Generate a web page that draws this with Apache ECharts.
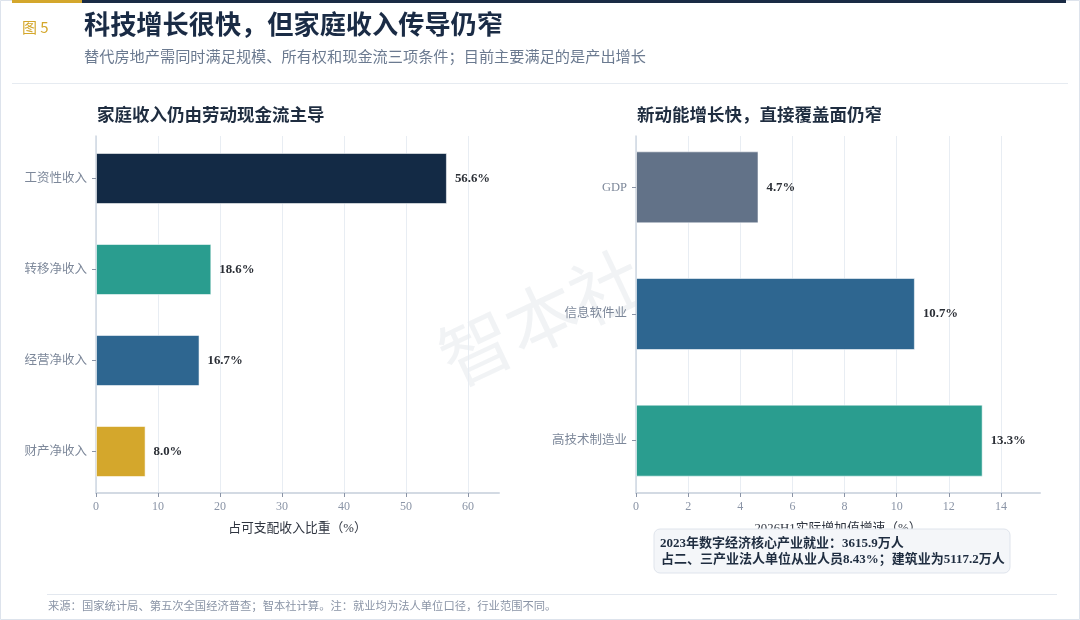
<!DOCTYPE html>
<html>
<head>
<meta charset="utf-8">
<script src="https://cdn.jsdelivr.net/npm/echarts@6/dist/echarts.min.js"></script>
<style>
html,body{margin:0;padding:0;background:#fff;}
#chart{width:1080px;height:620px;}
</style>
</head>
<body>
<div id="chart"></div>
<script>
// ---- data ----
const incomeCats = ['工资性收入', '转移净收入', '经营净收入', '财产净收入'];
const incomeVals = [56.6, 18.6, 16.7, 8.0];
const incomeColors = ['#132a45', '#2a9d8f', '#2e6690', '#d4a72c'];
const incomeTicks = [0, 10, 20, 30, 40, 50, 60];

const growthCats = ['GDP', '信息软件业', '高技术制造业'];
const growthVals = [4.7, 10.7, 13.3];
const growthColors = ['#627288', '#2e6690', '#2a9d8f'];
const growthTicks = [0, 2, 4, 6, 8, 10, 12, 14];

const SERIF = "'Liberation Serif','DejaVu Serif','Noto Sans CJK SC',serif";
const SANS = "'Noto Sans CJK SC','Noto Sans',sans-serif";

const chart = echarts.init(document.getElementById('chart'));

function barSeries(vals, colors, xi, yi, bw) {
  return {
    type: 'bar', xAxisIndex: xi, yAxisIndex: yi, barWidth: bw, z: 3,
    data: vals.map((v, i) => ({ value: v, itemStyle: { color: colors[i] } })),
    itemStyle: { borderColor: 'rgba(255,255,255,0.55)', borderWidth: 1 },
    label: {
      show: true, position: 'right', distance: 8,
      formatter: p => p.value.toFixed(1) + '%',
      color: '#2b2f36', fontSize: 12.8, fontWeight: 'bold', fontFamily: SERIF
    },
    emphasis: { disabled: true }
  };
}

function catAxis(grid, cats) {
  return {
    gridIndex: grid, type: 'category', data: cats, inverse: true,
    axisLine: { show: false },
    axisTick: { show: true, alignWithLabel: true, length: 4, lineStyle: { color: '#8a94a6', width: 1 } },
    axisLabel: { margin: 9, color: '#7d889a', fontSize: 12.5, fontFamily: SERIF },
    splitLine: { show: false }
  };
}

function frameX(grid, max, interval, ticks, name) {
  return {
    gridIndex: grid, type: 'value', min: 0, max: max, interval: interval,
    axisLine: { show: true, lineStyle: { color: '#d3dae3', width: 2 } },
    axisTick: { show: true, customValues: ticks, length: 4, lineStyle: { color: '#8a94a6' } },
    axisLabel: { customValues: ticks, color: '#8a94a6', fontSize: 12, fontFamily: SERIF, margin: 8 },
    splitLine: { show: true, lineStyle: { color: '#e8edf3', width: 1 } },
    name: name, nameLocation: 'middle', nameGap: 29,
    nameTextStyle: { color: '#2f3540', fontSize: 12.8, fontFamily: SERIF }
  };
}

function frameY(grid) {
  return {
    gridIndex: grid, type: 'value', min: 0, max: 1,
    axisLine: { show: true, lineStyle: { color: '#cfd7e2', width: 1.5 } },
    axisTick: { show: false }, axisLabel: { show: false }, splitLine: { show: false }
  };
}

const option = {
  backgroundColor: '#ffffff',
  animation: false,
  grid: [
    { left: 96, top: 133, width: 403, height: 364, outerBoundsMode: 'none', containLabel: false },
    { left: 96, top: 136, width: 403, height: 357, outerBoundsMode: 'none', containLabel: false },
    { left: 636, top: 124, width: 404, height: 380, outerBoundsMode: 'none', containLabel: false },
    { left: 636, top: 136, width: 404, height: 357, outerBoundsMode: 'none', containLabel: false }
  ],
  xAxis: [
    { gridIndex: 0, type: 'value', min: 0, max: 65, show: false },
    frameX(1, 65, 10, incomeTicks, '占可支配收入比重（%）'),
    { gridIndex: 2, type: 'value', min: 0, max: 15.5, show: false },
    frameX(3, 15.5, 2, growthTicks, '2026H1实际增加值增速（%）')
  ],
  yAxis: [
    catAxis(0, incomeCats),
    frameY(1),
    catAxis(2, growthCats),
    frameY(3)
  ],
  series: [
    barSeries(incomeVals, incomeColors, 0, 0, 51),
    barSeries(growthVals, growthColors, 2, 2, 72)
  ],
  graphic: [
    { type: 'rect', silent: true, z: -20, shape: { x: 0.5, y: 0.5, width: 1079, height: 619 }, style: { fill: 'none', stroke: '#dde3ec', lineWidth: 1 } },
    { type: 'rect', silent: true, shape: { x: 12, y: 0, width: 70, height: 3 }, style: { fill: '#d4a72c' } },
    { type: 'rect', silent: true, shape: { x: 82, y: 0, width: 984, height: 3 }, style: { fill: '#1a2b45' } },
    { type: 'text', silent: true, x: 22, y: 27, style: { text: '图 5', fill: '#d4a72c', font: '15px ' + SANS, verticalAlign: 'middle' } },
    { type: 'text', silent: true, x: 84, y: 24, style: { text: '科技增长很快，但家庭收入传导仍窄', fill: '#1a2b45', font: 'bold 26.2px ' + SANS, verticalAlign: 'middle' } },
    { type: 'text', silent: true, x: 84, y: 56, style: { text: '替代房地产需同时满足规模、所有权和现金流三项条件；目前主要满足的是产出增长', fill: '#6b7a90', font: '15.2px ' + SANS, verticalAlign: 'middle' } },
    { type: 'rect', silent: true, shape: { x: 12, y: 83, width: 1056, height: 1 }, style: { fill: '#e6ebf1' } },
    { type: 'text', silent: true, x: 97, y: 116, style: { text: '家庭收入仍由劳动现金流主导', fill: '#1f2d40', font: 'bold 17.5px ' + SERIF, verticalAlign: 'middle' } },
    { type: 'text', silent: true, x: 637, y: 116, style: { text: '新动能增长快，直接覆盖面仍窄', fill: '#1f2d40', font: 'bold 17.5px ' + SERIF, verticalAlign: 'middle' } },
    { type: 'text', silent: true, z: -5, x: 545, y: 325, rotation: 0.44, style: { text: '智本社', fill: 'rgba(185,193,206,0.2)', font: '72px ' + SERIF, align: 'center', verticalAlign: 'middle' } },
    { type: 'rect', silent: true, z: 10, shape: { x: 654, y: 529, width: 356, height: 44, r: 6 }, style: { fill: '#f4f6f9', stroke: '#dfe4ec', lineWidth: 1 } },
    { type: 'text', silent: true, z: 11, x: 660, y: 544, style: { text: '2023年数字经济核心产业就业：3615.9万人', fill: '#1f2d40', font: 'bold 13px ' + SERIF, verticalAlign: 'middle' } },
    { type: 'text', silent: true, z: 11, x: 661, y: 560, style: { text: '占二、三产业法人单位从业人员8.43%；建筑业为5117.2万人', fill: '#1f2d40', font: 'bold 13px ' + SERIF, verticalAlign: 'middle' } },
    { type: 'rect', silent: true, shape: { x: 47, y: 594, width: 1010, height: 1 }, style: { fill: '#e3e8ef' } },
    { type: 'text', silent: true, x: 48, y: 607, style: { text: '来源：国家统计局、第五次全国经济普查；智本社计算。注：就业均为法人单位口径，行业范围不同。', fill: '#8a94a6', font: '11.3px ' + SERIF, verticalAlign: 'middle' } }
  ]
};
chart.setOption(option);
</script>
</body>
</html>
